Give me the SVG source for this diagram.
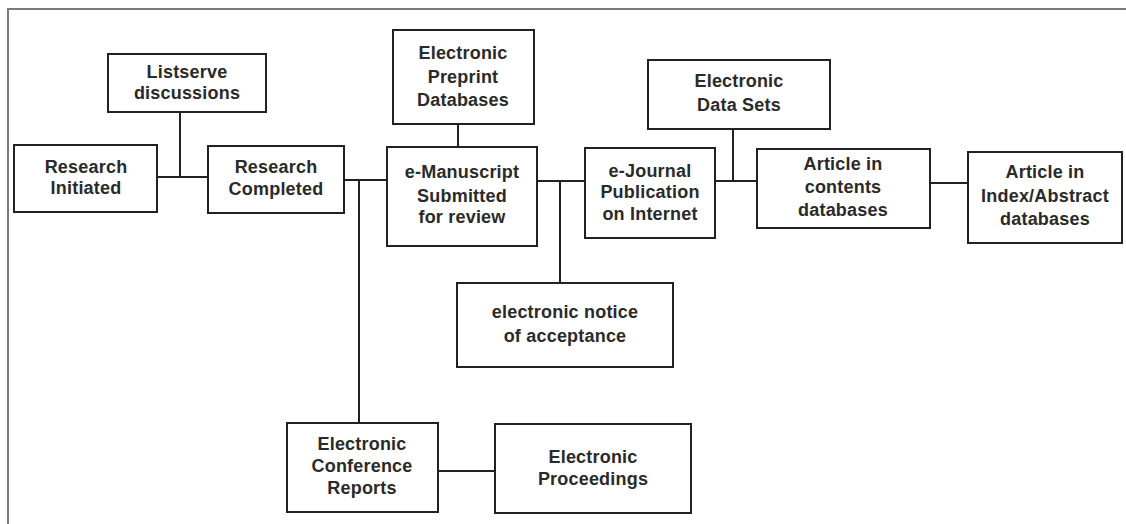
<svg xmlns="http://www.w3.org/2000/svg" width="1126" height="524" viewBox="0 0 1126 524">
<style>
.frame{fill:none;stroke:#7a7a7a;stroke-width:2}
.box{fill:#fff;stroke:#222;stroke-width:2}
.con{fill:none;stroke:#222;stroke-width:2}
text{font-family:"Liberation Sans",Arial,Helvetica,sans-serif;font-size:18px;letter-spacing:0.2px;font-weight:bold;fill:#2a2a2a;text-anchor:middle}
</style>
<rect x="0" y="0" width="1126" height="524" fill="#fff"/>
<path class="frame" d="M8,524 V9 H1126"/>
<g id="connectors">
<path class="con" d="M157,177 H208"/>
<path class="con" d="M180,112 V177"/>
<path class="con" d="M344,180 H387"/>
<path class="con" d="M359,180 V423"/>
<path class="con" d="M458,124 V147"/>
<path class="con" d="M537,181 H585"/>
<path class="con" d="M560,181 V283"/>
<path class="con" d="M715,181 H757"/>
<path class="con" d="M733,129 V181"/>
<path class="con" d="M930,183 H968"/>
<path class="con" d="M438,471 H495"/>
</g>
<g id="listserve">
<rect class="box" x="108" y="54" width="158" height="58"/>
<text x="187" y="78">Listserve</text>
<text x="187" y="99">discussions</text>
</g>
<g id="research-initiated">
<rect class="box" x="14" y="145" width="143" height="67"/>
<text x="86" y="173">Research</text>
<text x="86" y="194">Initiated</text>
</g>
<g id="research-completed">
<rect class="box" x="208" y="146" width="136" height="67"/>
<text x="276" y="173">Research</text>
<text x="276" y="195">Completed</text>
</g>
<g id="preprint">
<rect class="box" x="393" y="30" width="141" height="94"/>
<text x="463" y="59">Electronic</text>
<text x="463" y="83">Preprint</text>
<text x="463" y="106">Databases</text>
</g>
<g id="e-manuscript">
<rect class="box" x="387" y="147" width="150" height="99"/>
<text x="462" y="178">e-Manuscript</text>
<text x="462" y="202">Submitted</text>
<text x="462" y="223">for review</text>
</g>
<g id="e-journal">
<rect class="box" x="585" y="148" width="130" height="90"/>
<text x="650" y="177">e-Journal</text>
<text x="650" y="198">Publication</text>
<text x="650" y="220">on Internet</text>
</g>
<g id="data-sets">
<rect class="box" x="648" y="60" width="182" height="69"/>
<text x="739" y="87">Electronic</text>
<text x="739" y="111">Data Sets</text>
</g>
<g id="contents-db">
<rect class="box" x="757" y="149" width="173" height="79"/>
<text x="843" y="170">Article in</text>
<text x="843" y="193">contents</text>
<text x="843" y="216">databases</text>
</g>
<g id="index-db">
<rect class="box" x="968" y="152" width="154" height="91"/>
<text x="1045" y="178">Article in</text>
<text x="1045" y="202">Index/Abstract</text>
<text x="1045" y="225">databases</text>
</g>
<g id="notice">
<rect class="box" x="457" y="283" width="216" height="84"/>
<text x="565" y="318">electronic notice</text>
<text x="565" y="342">of acceptance</text>
</g>
<g id="conference">
<rect class="box" x="287" y="423" width="151" height="89"/>
<text x="362" y="450">Electronic</text>
<text x="362" y="472">Conference</text>
<text x="362" y="494">Reports</text>
</g>
<g id="proceedings">
<rect class="box" x="495" y="424" width="196" height="89"/>
<text x="593" y="463">Electronic</text>
<text x="593" y="485">Proceedings</text>
</g>
</svg>
